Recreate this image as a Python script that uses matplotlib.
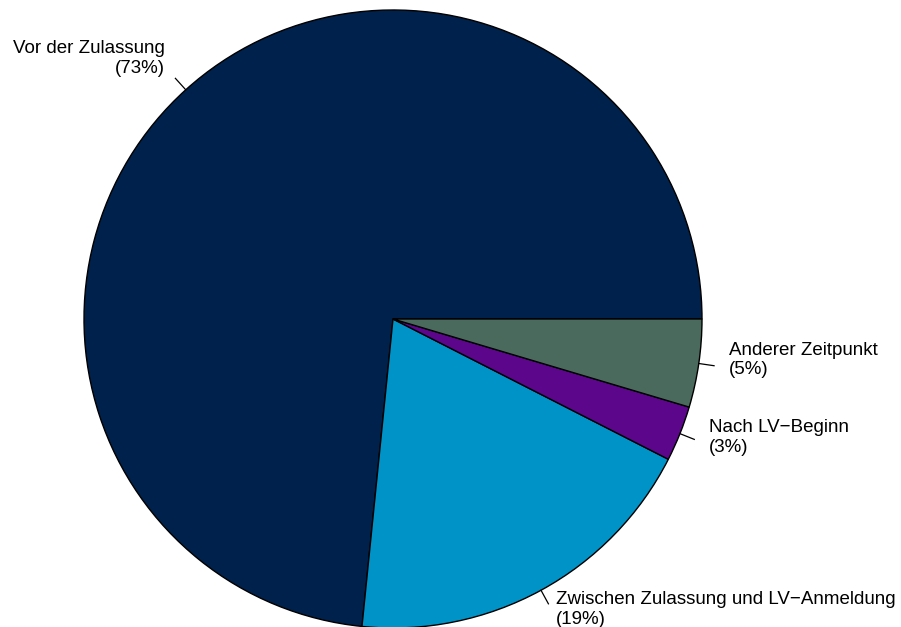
import numpy as np
import matplotlib.pyplot as plt

labels = ["Vor der Zulassung", "Zwischen Zulassung und LV\u2212Anmeldung",
          "Nach LV\u2212Beginn", "Anderer Zeitpunkt"]
shares = [73.4, 19.1, 2.9, 4.6]
pct_text = ["73%", "19%", "3%", "5%"]
colors = ["#00214b", "#0093c8", "#5c068c", "#4b6a5e"]

W, H = 901, 627
cx, cy, r = 393, H - 319, 309

fig = plt.figure(figsize=(W / 100, H / 100), dpi=100)
ax = fig.add_axes([0, 0, 1, 1])
ax.pie(shares, colors=colors, startangle=0, counterclock=True,
       center=(cx, cy), radius=r,
       wedgeprops=dict(edgecolor="black", linewidth=1))
ax.set_xlim(0, W)
ax.set_ylim(0, H)
ax.set_aspect("equal")
ax.axis("off")

# R-style labels: tick from 1.0 to 1.05 radius, text at 1.1
cum = np.cumsum([0] + shares)
total = cum[-1]
for i, lab in enumerate(labels):
    mid = np.deg2rad((cum[i] + cum[i + 1]) / 2 / total * 360)
    c, s = np.cos(mid), np.sin(mid)
    ax.plot([cx + r * c, cx + 1.05 * r * c], [cy + r * s, cy + 1.05 * r * s],
            color="black", lw=0.9)
    ax.text(cx + 1.1 * r * c, cy + 1.1 * r * s + 8, f"{lab}\n({pct_text[i]})",
            ha="left" if c > 0 else "right", va="center",
            multialignment="left" if c > 0 else "right",
            fontsize=13.5, family="Liberation Sans", linespacing=1.22)

fig.savefig("out.png", dpi=100)
